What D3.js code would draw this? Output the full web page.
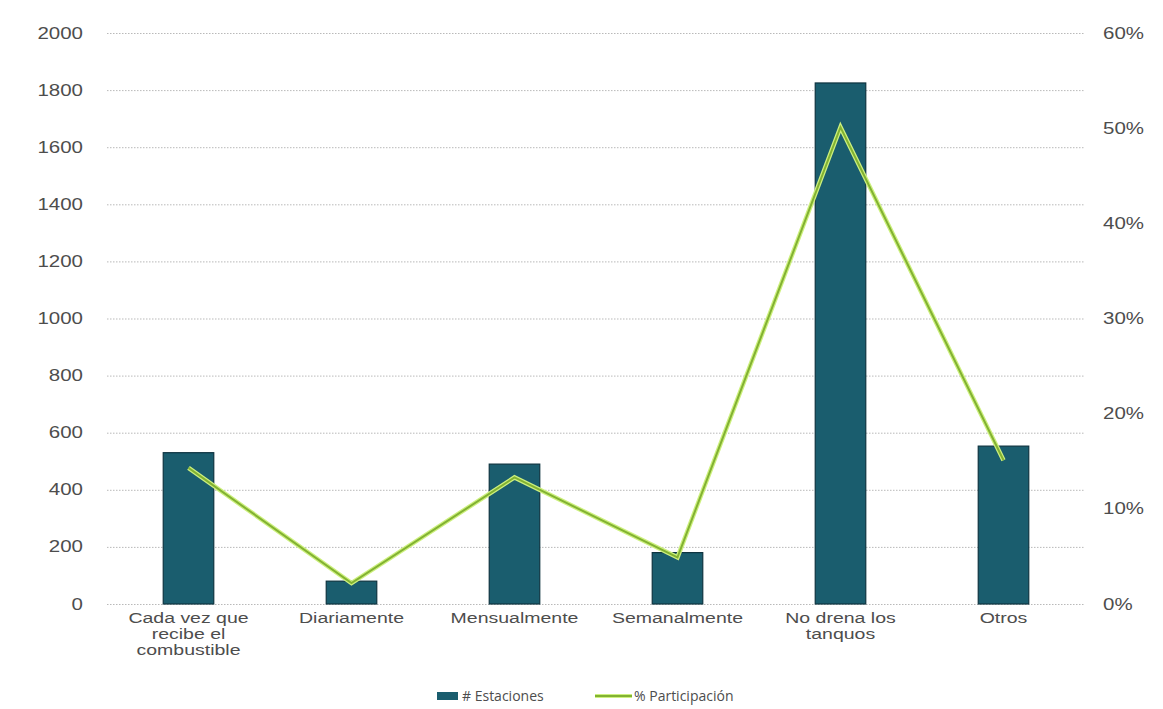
<!DOCTYPE html>
<html><head><meta charset="utf-8">
<script src="https://cdn.jsdelivr.net/npm/d3@7"></script>
<style>body{margin:0;background:#fff}svg{display:block}</style>
</head><body>
<svg id="c" width="1163" height="709"></svg>
<script>
const categories = [["Cada vez que","recibe el","combustible"],["Diariamente"],["Mensualmente"],["Semanalmente"],["No drena los","tanquos"],["Otros"]];
const estaciones = [530, 80, 490, 180, 1825, 553];
const participacion = [14.3, 2.2, 13.3, 4.9, 50.1, 15.1];
const leftTicks = [0,200,400,600,800,1000,1200,1400,1600,1800,2000];
const rightTicks = [0,10,20,30,40,50,60];
const legendLabels = ["# Estaciones","% Participación"];

const svg = d3.select("#c");
const x0=107, x1=1085, yTop=33, yBot=604;
const ids = d3.range(categories.length);
const x = d3.scaleBand().domain(ids).range([x0,x1]).paddingInner(0.69).paddingOuter(0.345);
const yL = d3.scaleLinear().domain([0,2000]).range([yBot,yTop]);
const yR = d3.scaleLinear().domain([0,60]).range([yBot,yTop]);
const textCol="#4d4d4d";
const sx=1.28;

// gridlines
const gAxisL = svg.append("g").attr("transform",`translate(${x0},0)`)
  .call(d3.axisLeft(yL).tickValues(leftTicks).tickSize(-(x1-x0)).tickFormat(""));
gAxisL.select(".domain").remove();
gAxisL.selectAll("line").attr("stroke","#a8a8a8").attr("stroke-width",1).attr("stroke-dasharray","1.5,1.5").attr("opacity",0.8);

// left labels
svg.append("g").selectAll("text").data(leftTicks).join("text")
  .attr("transform",d=>`translate(83,${yL(d)+5.5}) scale(${sx},1)`)
  .attr("text-anchor","end").attr("font-family","Liberation Sans, Arial, sans-serif")
  .attr("font-size",16).attr("fill",textCol).text(d=>d);

// right labels
svg.append("g").selectAll("text").data(rightTicks).join("text")
  .attr("transform",d=>`translate(1103,${yR(d)+5.5}) scale(${sx},1)`)
  .attr("text-anchor","start").attr("font-family","Liberation Sans, Arial, sans-serif")
  .attr("font-size",16).attr("fill",textCol).text(d=>d+"%");

// bars
svg.append("g").selectAll("rect").data(ids).join("rect")
  .attr("x",i=>x(i)).attr("width",x.bandwidth())
  .attr("y",i=>yL(estaciones[i])).attr("height",i=>yBot-yL(estaciones[i]))
  .attr("fill","#1a5d6e").attr("stroke","#0e3440").attr("stroke-width",1.2);

// line
const line = d3.line().x(i=>x(i)+x.bandwidth()/2).y(i=>yR(participacion[i]));
svg.append("path").datum(ids).attr("d",line).attr("fill","none")
  .attr("stroke","#cdf07e").attr("stroke-width",4.5).attr("stroke-linejoin","miter");
svg.append("path").datum(ids).attr("d",line).attr("fill","none")
  .attr("stroke","#82b232").attr("stroke-width",2).attr("stroke-linejoin","miter");

// x labels
const xl = svg.append("g");
ids.forEach(i=>{
  categories[i].forEach((t,k)=>{
    xl.append("text")
      .attr("transform",`translate(${x(i)+x.bandwidth()/2},${623+k*16}) scale(1.3,1)`)
      .attr("text-anchor","middle").attr("font-family","Liberation Sans, Arial, sans-serif")
      .attr("font-size",15).attr("fill",textCol).text(t);
  });
});

// legend
const lg = svg.append("g");
lg.append("rect").attr("x",437).attr("y",692).attr("width",21).attr("height",8).attr("fill","#1a5d6e");
lg.append("text").attr("x",462).attr("y",701).attr("font-family","Open Sans, sans-serif")
  .attr("font-size",14).attr("fill",textCol).text(legendLabels[0]);
lg.append("line").attr("x1",595).attr("x2",632).attr("y1",696).attr("y2",696).attr("stroke","#cdf07e").attr("stroke-width",4);
lg.append("line").attr("x1",595).attr("x2",632).attr("y1",696).attr("y2",696).attr("stroke","#82b232").attr("stroke-width",2);
lg.append("text").attr("x",634).attr("y",701).attr("font-family","Open Sans, sans-serif")
  .attr("font-size",14).attr("fill",textCol).text(legendLabels[1]);
</script>
</body></html>
